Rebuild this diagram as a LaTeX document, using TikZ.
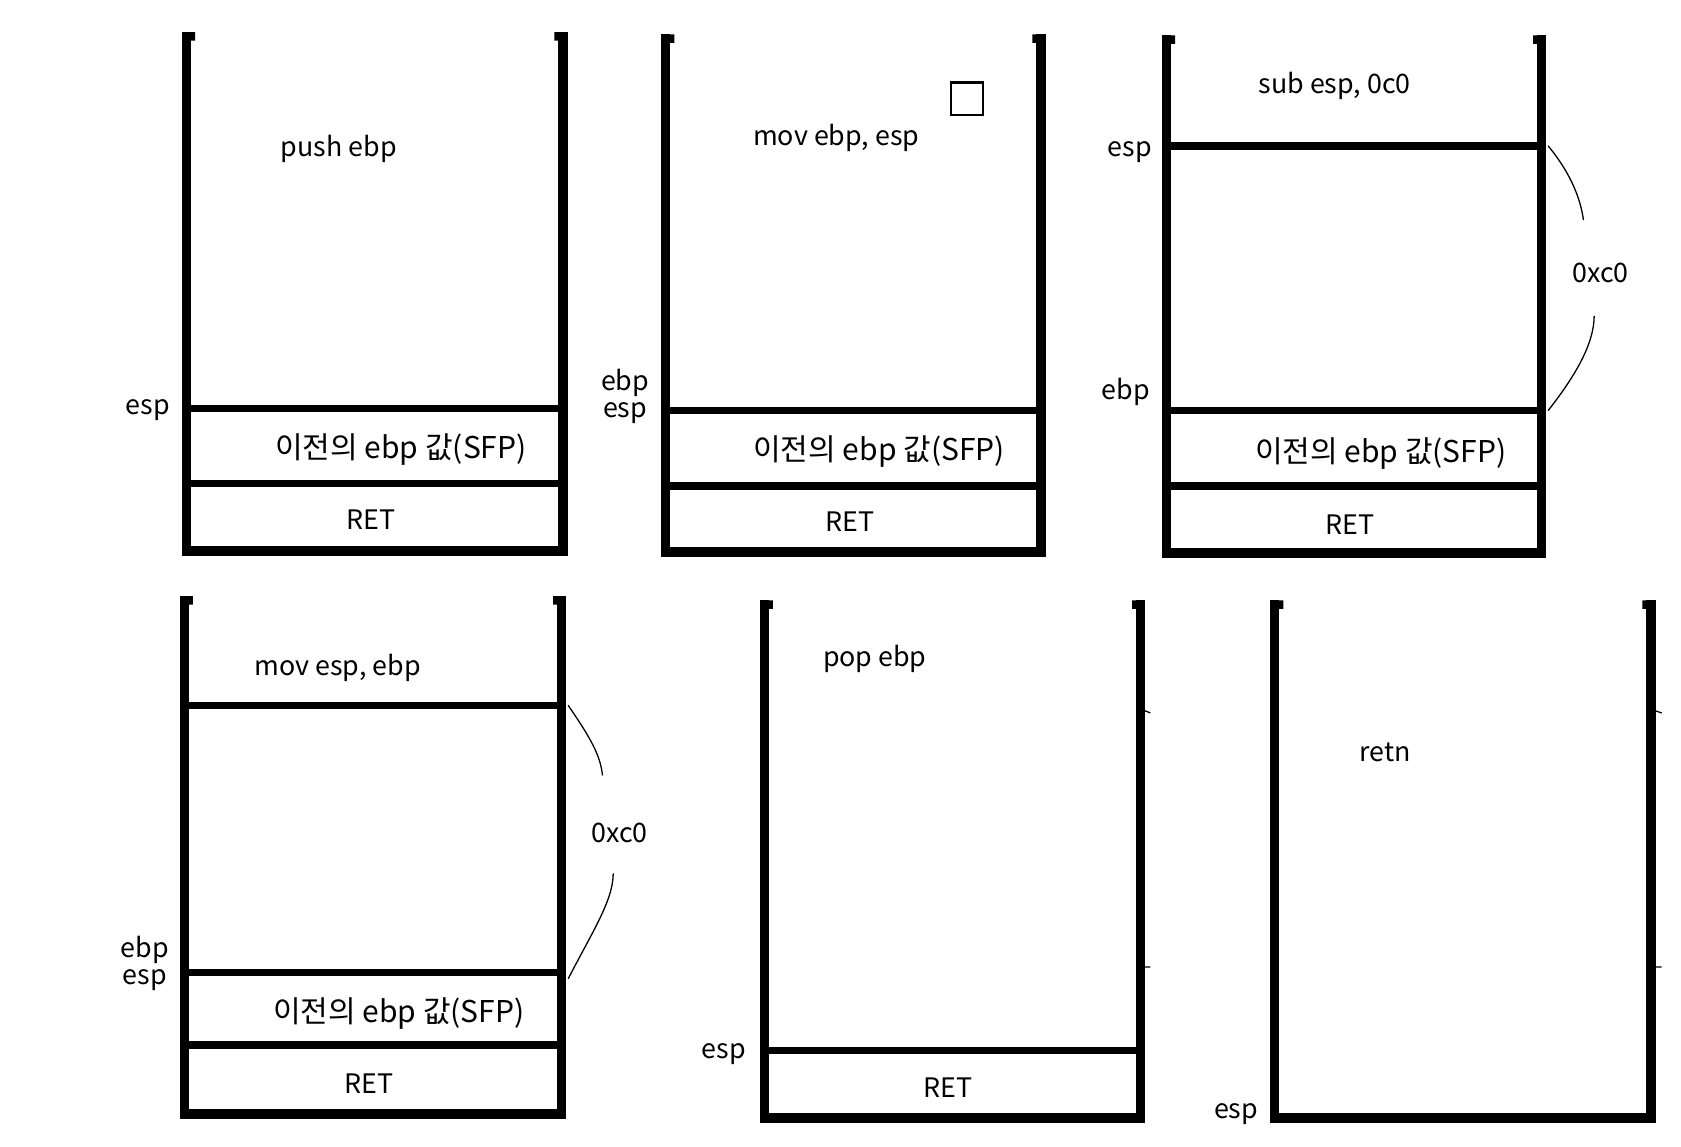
\documentclass[tikz,border=0pt]{standalone}
\usepackage{fontspec}
\newfontfamily\krfont{Noto Sans CJK KR}
\usetikzlibrary{positioning}

\begin{document}
\begin{tikzpicture}[
    x=0.5pt, y=-0.5pt,
    every node/.style={font=\krfont\fontsize{12.5}{14}\selectfont, inner sep=0pt},
    wall/.style ={line width=4.4pt},
    slot/.style ={line width=3.6pt},
    sfp/.style  ={font=\krfont\fontsize{14}{16}\selectfont},
    span/.style ={line width=0.6pt},
    sqbox/.style={draw, line width=1pt, minimum size=15pt},
]
\useasboundingbox (0,0) rectangle (1568,1069);

% the six stacks: left / right / top / bottom
\foreach \l/\r/\t/\b in {174/525/30/514, 621/971/32/515, 1088/1438/33/516,
                         172/524/556/1039, 713/1064/560/1043, 1189/1540/560/1043}{
  \draw[wall] (\l,\t) |- (\r,\b) -- (\r,\t);
  \fill (\l,\t) rectangle ++(8,8) (\r,\t) rectangle ++(-8,8);
}

% push ebp
\draw[slot] (174,381) -- (525,381);
\draw[slot] (174,451) -- (525,451);
\node (push) at (316,139) {push ebp};
\node (esp1) at (138,383) {esp};
\node[sfp] (sfp1) at (374,419) {이전의 ebp 값(SFP)};
\node (ret1) at (346,485) {RET};

% mov ebp, esp
\draw[slot] (621,383) -- (971,383);
\draw[slot] (621,453) -- (971,453);
\node (movbp) at (780,129) {mov ebp, esp};
\node[sqbox] (box) at (902,92) {};
\node (ebp2) at (583,357) {ebp};
\node (esp2) at (583,385) {esp};
\node[sfp] (sfp2) at (820,421) {이전의 ebp 값(SFP)};
\node (ret2) at (793,487) {RET};

% sub esp, 0c0
\draw[slot] (1088,136) -- (1438,136) coordinate (top3);
\draw[slot] (1088,383) -- (1438,383) coordinate (bot3);
\draw[slot] (1088,453) -- (1438,453);
\node (sub) at (1245,80) {sub esp, 0c0};
\node (esp3) at (1054,142) {esp};
\node (ebp3) at (1050,366) {ebp};
\node[sfp] (sfp3) at (1288,423) {이전의 ebp 값(SFP)};
\node (ret3) at (1259,489) {RET};
\node (size3) at (1493,255) {0xc0};
\draw[span] ([xshift=3pt]top3) .. controls (1468,165) and (1475,190) .. ([xshift=-8pt,yshift=20pt]size3.north);
\draw[span] ([xshift=-3pt,yshift=-15pt]size3.south) .. controls (1487,320) and (1470,350) .. ([xshift=3pt]bot3);

% mov esp, ebp
\draw[slot] (172,658) -- (524,658) coordinate (top4);
\draw[slot] (172,907) -- (524,907) coordinate (bot4);
\draw[slot] (172,975) -- (524,975);
\node (movsp) at (315,623) {mov esp, ebp};
\node (ebp4) at (135,886) {ebp};
\node (esp4) at (135,914) {esp};
\node[sfp] (sfp4) at (372,945) {이전의 ebp 값(SFP)};
\node (ret4) at (344,1011) {RET};
\node (size4) at (578,777) {0xc0};
\draw[span] ([xshift=3pt]top4) .. controls (552,690) and (560,705) .. ([xshift=-8pt,yshift=22pt]size4.north);
\draw[span] ([xshift=-3pt,yshift=-14pt]size4.south) .. controls (572,840) and (552,870) .. ([xshift=3pt,yshift=-3pt]bot4);

% pop ebp
\draw[slot] (713,980) -- (1064,980);
\node (pop) at (816,615) {pop ebp};
\node (esp5) at (675,983) {esp};
\node (ret5) at (884,1015) {RET};
\draw[span] (1068,663) -- (1073,665) (1068,902) -- (1073,902);

% retn
\node (retn) at (1292,702) {retn};
\node (esp6) at (1153,1039) {esp};
\draw[span] (1544,663) -- (1550,665) (1544,902) -- (1550,902);
\end{tikzpicture}
\end{document}
